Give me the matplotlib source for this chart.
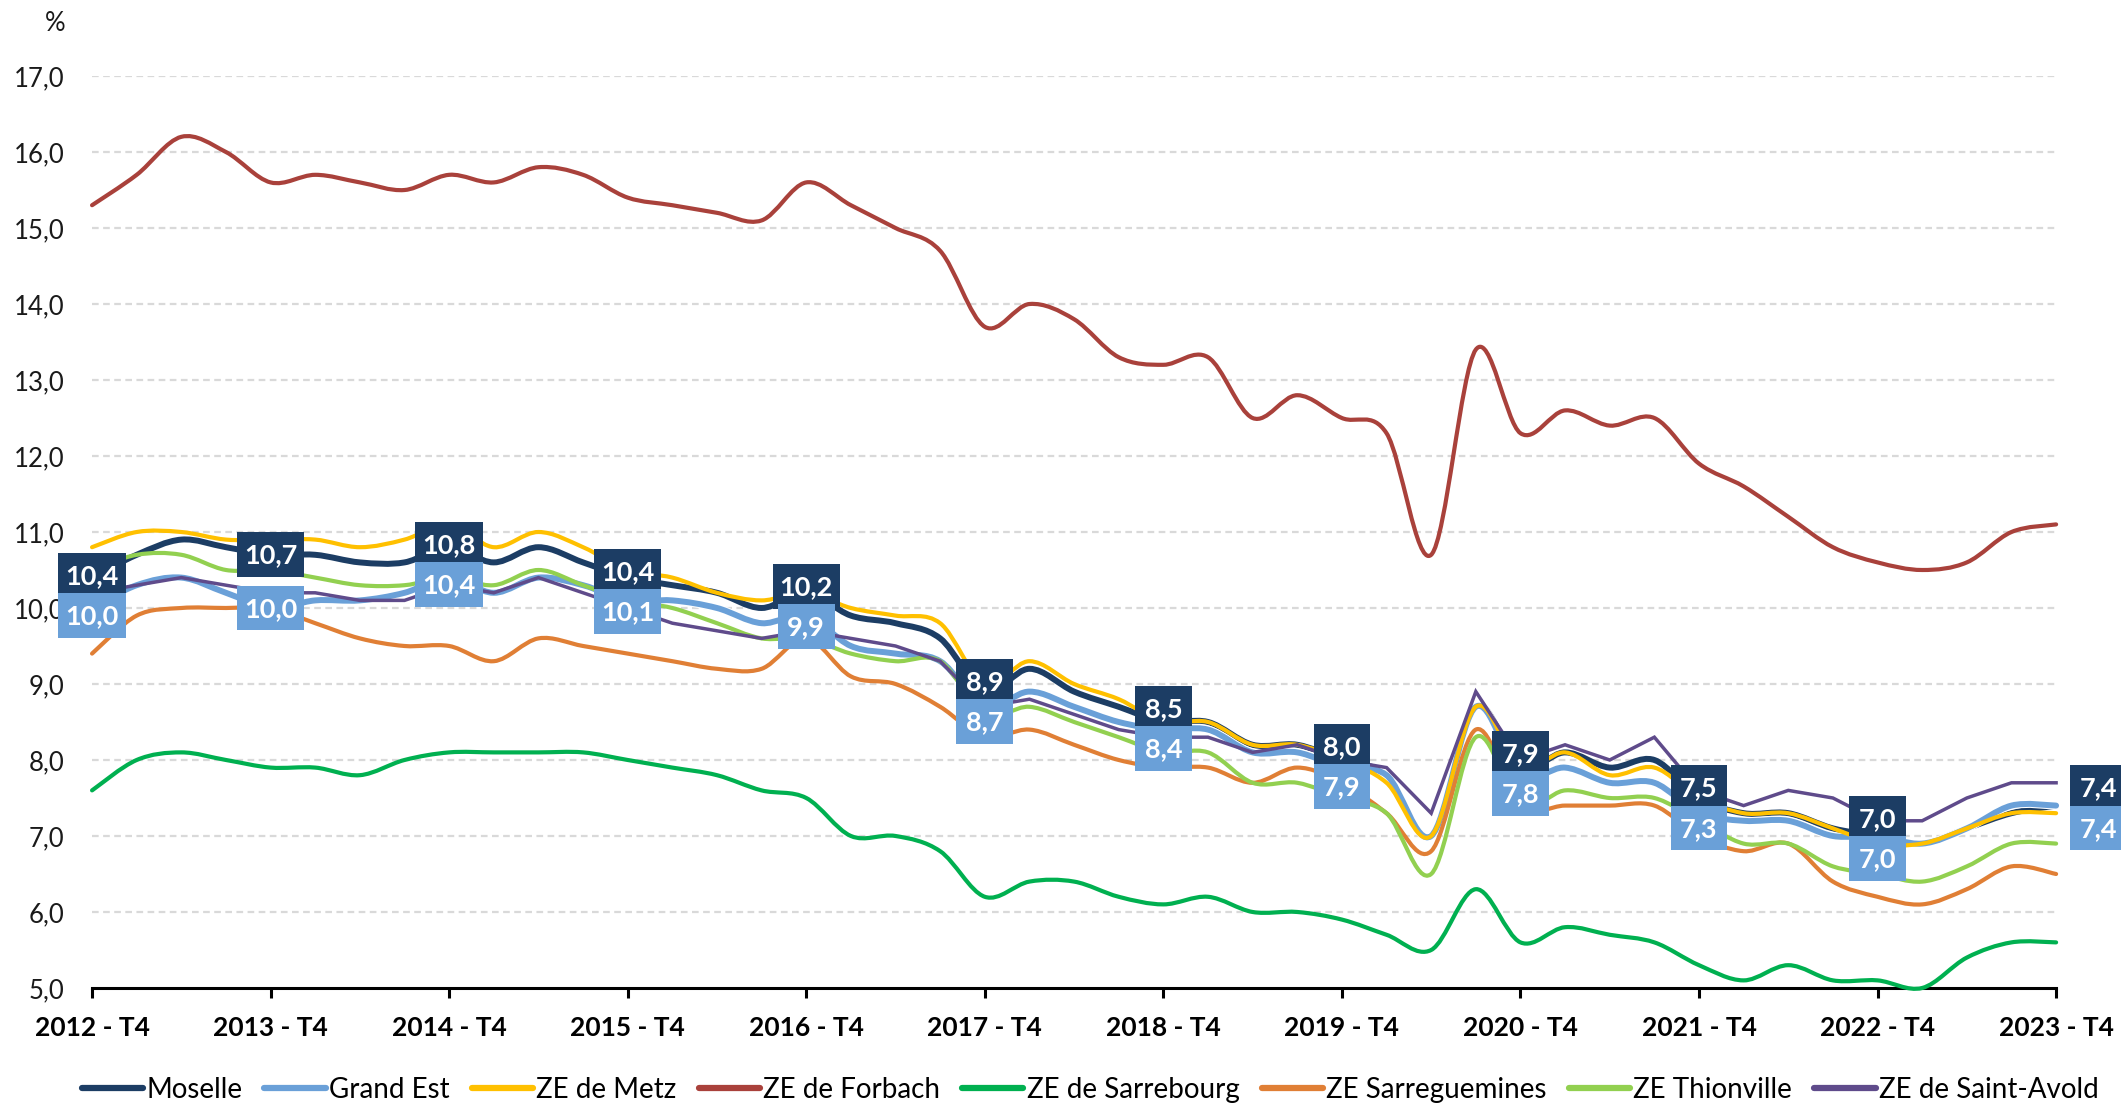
import numpy as np
import matplotlib
matplotlib.use("Agg")
import matplotlib.pyplot as plt
from matplotlib.path import Path
from matplotlib.patches import PathPatch, Rectangle
from matplotlib.lines import Line2D
import matplotlib.patheffects as pe

plt.rcParams['font.family'] = ['Lato', 'DejaVu Sans']

# quarters 2012-T4 .. 2023-T4 (45 points), ticks on every T4
years = ['2012', '2013', '2014', '2015', '2016', '2017',
         '2018', '2019', '2020', '2021', '2022', '2023']
tick_labels = [y + ' - T4' for y in years]

moselle = [10.4, 10.7, 10.9, 10.8, 10.7, 10.7, 10.6, 10.6, 10.8, 10.6, 10.8, 10.6,
           10.4, 10.3, 10.2, 10.0, 10.2, 9.9, 9.8, 9.6, 8.9, 9.2, 8.9, 8.7,
           8.5, 8.5, 8.2, 8.2, 8.0, 7.8, 7.0, 8.7, 7.9, 8.1, 7.9, 8.0,
           7.5, 7.3, 7.3, 7.1, 7.0, 6.9, 7.1, 7.3, 7.4]
grand_est = [10.0, 10.3, 10.4, 10.2, 10.0, 10.1, 10.1, 10.2, 10.4, 10.2, 10.4, 10.3,
             10.1, 10.1, 10.0, 9.8, 9.9, 9.5, 9.4, 9.3, 8.7, 8.9, 8.7, 8.5,
             8.4, 8.4, 8.1, 8.1, 7.9, 7.8, 7.0, 8.7, 7.8, 7.9, 7.7, 7.7,
             7.3, 7.2, 7.2, 7.0, 7.0, 6.9, 7.1, 7.4, 7.4]
metz = [10.8, 11.0, 11.0, 10.9, 10.9, 10.9, 10.8, 10.9, 11.1, 10.8, 11.0, 10.8,
        10.5, 10.4, 10.2, 10.1, 10.2, 10.0, 9.9, 9.8, 9.0, 9.3, 9.0, 8.8,
        8.5, 8.5, 8.2, 8.2, 8.0, 7.7, 7.0, 8.7, 7.9, 8.1, 7.8, 7.9,
        7.5, 7.3, 7.3, 7.1, 6.9, 6.9, 7.1, 7.3, 7.3]
forbach = [15.3, 15.7, 16.2, 16.0, 15.6, 15.7, 15.6, 15.5, 15.7, 15.6, 15.8, 15.7,
           15.4, 15.3, 15.2, 15.1, 15.6, 15.3, 15.0, 14.7, 13.7, 14.0, 13.8, 13.3,
           13.2, 13.3, 12.5, 12.8, 12.5, 12.3, 10.7, 13.4, 12.3, 12.6, 12.4, 12.5,
           11.9, 11.6, 11.2, 10.8, 10.6, 10.5, 10.6, 11.0, 11.1]
sarrebourg = [7.6, 8.0, 8.1, 8.0, 7.9, 7.9, 7.8, 8.0, 8.1, 8.1, 8.1, 8.1,
              8.0, 7.9, 7.8, 7.6, 7.5, 7.0, 7.0, 6.8, 6.2, 6.4, 6.4, 6.2,
              6.1, 6.2, 6.0, 6.0, 5.9, 5.7, 5.5, 6.3, 5.6, 5.8, 5.7, 5.6,
              5.3, 5.1, 5.3, 5.1, 5.1, 5.0, 5.4, 5.6, 5.6]
sarreguemines = [9.4, 9.9, 10.0, 10.0, 10.0, 9.8, 9.6, 9.5, 9.5, 9.3, 9.6, 9.5,
                 9.4, 9.3, 9.2, 9.2, 9.6, 9.1, 9.0, 8.7, 8.3, 8.4, 8.2, 8.0,
                 7.9, 7.9, 7.7, 7.9, 7.7, 7.3, 6.8, 8.4, 7.4, 7.4, 7.4, 7.4,
                 7.0, 6.8, 6.9, 6.4, 6.2, 6.1, 6.3, 6.6, 6.5]
thionville = [10.5, 10.7, 10.7, 10.5, 10.5, 10.4, 10.3, 10.3, 10.4, 10.3, 10.5, 10.3,
              10.1, 10.0, 9.8, 9.6, 9.6, 9.4, 9.3, 9.3, 8.6, 8.7, 8.5, 8.3,
              8.1, 8.1, 7.7, 7.7, 7.5, 7.3, 6.5, 8.3, 7.4, 7.6, 7.5, 7.5,
              7.2, 6.9, 6.9, 6.6, 6.5, 6.4, 6.6, 6.9, 6.9]
saint_avold = [10.2, 10.3, 10.4, 10.3, 10.2, 10.2, 10.1, 10.1, 10.3, 10.2, 10.4, 10.2,
               10.0, 9.8, 9.7, 9.6, 9.7, 9.6, 9.5, 9.3, 8.7, 8.8, 8.6, 8.4,
               8.3, 8.3, 8.1, 8.2, 8.0, 7.9, 7.3, 8.9, 8.0, 8.2, 8.0, 8.3,
               7.6, 7.4, 7.6, 7.5, 7.2, 7.2, 7.5, 7.7, 7.7]

series = [
    ('Moselle', moselle, '#1c3d64', 4.3, True),
    ('Grand Est', grand_est, '#6aa0d8', 4.3, True),
    ('ZE de Metz', metz, '#ffc000', 3.0, True),
    ('ZE de Forbach', forbach, '#a9413b', 3.0, True),
    ('ZE de Sarrebourg', sarrebourg, '#00b050', 3.0, True),
    ('ZE Sarreguemines', sarreguemines, '#e07f35', 3.0, True),
    ('ZE Thionville', thionville, '#92d050', 3.0, True),
    ('ZE de Saint-Avold', saint_avold, '#5f4b8b', 2.5, False),
]


def smooth_path(xs, ys):
    # Catmull-Rom style bezier, like the "smoothed line" option of spreadsheets
    pts = np.column_stack([xs, ys]).astype(float)
    n = len(pts)
    verts = [pts[0]]
    codes = [Path.MOVETO]
    for i in range(n - 1):
        p0 = pts[i - 1] if i > 0 else pts[i]
        p1, p2 = pts[i], pts[i + 1]
        p3 = pts[i + 2] if i + 2 < n else pts[i + 1]
        verts += [p1 + (p2 - p0) / 6, p2 - (p3 - p1) / 6, p2]
        codes += [Path.CURVE4] * 3
    return Path(verts, codes)


fig = plt.figure(figsize=(21.21, 11.05), dpi=100)
ax = fig.add_axes([0.0434, 0.1059, 0.926, 0.8253])

x = np.arange(len(moselle))
handles = []
for k, (name, vals, col, lw, smooth) in enumerate(series):
    effects = None
    if name == 'Grand Est':
        effects = [pe.withStroke(linewidth=lw + 1.5, foreground='white')]
    if smooth:
        patch = PathPatch(smooth_path(x, vals), fill=False, edgecolor=col, lw=lw,
                          capstyle='round', joinstyle='round', zorder=3 + k,
                          clip_on=False)
        if effects:
            patch.set_path_effects(effects)
        ax.add_patch(patch)
    else:
        ax.plot(x, vals, color=col, lw=lw, solid_joinstyle='miter',
                zorder=3 + k, clip_on=False)
    handles.append(Line2D([0], [0], color=col, lw=4.5, solid_capstyle='round'))

ax.set_xlim(0, len(moselle) - 1)
ax.set_ylim(5, 17)

# labels for Moselle and Grand Est at every T4
box_h = 0.59
sep = 0.53
for k in range(len(years)):
    i = 4 * k
    m, g = moselle[i], grand_est[i]
    ym, yg = m, g
    if m - g < sep:
        mid = (m + g) / 2 - 0.03
        ym, yg = mid + sep / 2, mid - sep / 2
    xc = i + 0.95 if k == len(years) - 1 else i
    for val, yc, col in [(m, ym, '#1c3d64'), (g, yg, '#6aa0d8')]:
        txt = f'{val:.1f}'.replace('.', ',')
        w = 0.55 + 0.24 * len(txt)
        ax.add_patch(Rectangle((xc - w / 2, yc - box_h / 2), w, box_h, fc=col,
                               ec='none', zorder=20, clip_on=False))
        ax.text(xc, yc - 0.01, txt, color='white', fontsize=19.5, fontweight='bold',
                ha='center', va='center', zorder=21, clip_on=False)

# axes styling
for s in ['left', 'right', 'top']:
    ax.spines[s].set_visible(False)
ax.spines['bottom'].set_linewidth(2.2)
ax.spines['bottom'].set_zorder(2)
ax.set_yticks(np.arange(5, 18, 1))
ax.set_yticklabels([f'{v:.1f}'.replace('.', ',') for v in np.arange(5, 18, 1)])
ax.tick_params(axis='y', length=0, pad=20, labelsize=18.5, labelcolor='#1a1a1a')
ax.set_xticks(np.arange(0, len(moselle), 4))
ax.set_xticklabels(tick_labels, fontweight='bold')
ax.tick_params(axis='x', length=7, width=2.2, direction='out', pad=13,
               labelsize=19, labelcolor='black')
for v in range(6, 18):
    ax.axhline(v, color='#d9d9d9', lw=1.6, ls=(0, (3, 2)), zorder=1)

fig.text(0.026, 0.979, '%', fontsize=18.5, ha='center', va='center', color='#1a1a1a')

fig.legend(handles, [s[0] for s in series], loc='center', ncol=8,
           bbox_to_anchor=(0.514, 0.0135), frameon=False, fontsize=20,
           handlelength=2.2, handletextpad=0.12, columnspacing=0.8, borderpad=0)

fig.savefig('out.png', dpi=100)
